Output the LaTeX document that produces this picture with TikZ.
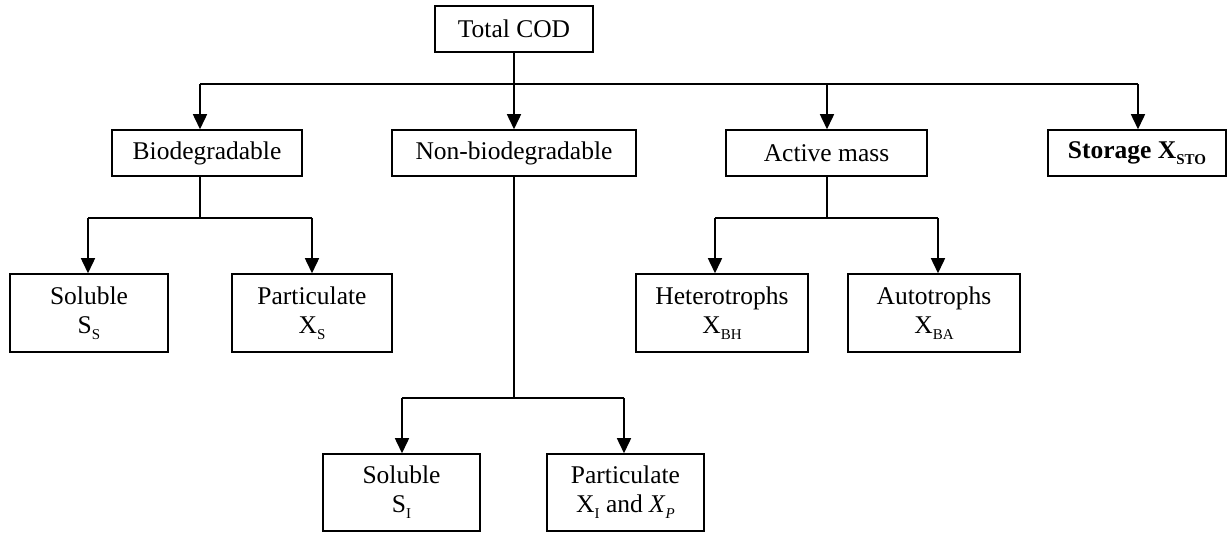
\documentclass[tikz,border=0pt]{standalone}
\usepackage{fontspec}
\setmainfont{Liberation Serif}
\usetikzlibrary{arrows.meta}
\newcommand{\lsub}[1]{\raisebox{-6pt}{\fontsize{15}{15}\selectfont #1}}
\begin{document}
\begin{tikzpicture}[x=1pt,y=-1pt,
  box/.style={draw,line width=1.5pt,rectangle,inner sep=0pt,align=center,
    font=\fontsize{25.5}{29}\selectfont},
  onebox/.style={box,minimum height=46pt},
  twobox/.style={box,minimum height=78pt},
  conn/.style={line width=1.5pt},
  arr/.style={line width=1.5pt,-{Triangle[width=14pt,length=15pt]}}]
\useasboundingbox (0,0) rectangle (1227,534);
% top
\node[onebox,minimum width=158pt] (total) at (514,29) {Total COD};
% level 1
\node[onebox,minimum width=190pt] (bio) at (207,153) {Biodegradable};
\node[onebox,minimum width=244pt] (non) at (514,153) {Non-biodegradable};
\node[onebox,minimum width=201pt] (active) at (826.5,153) {Active mass};
\node[onebox,minimum width=178pt] (sto) at (1137,153) {\textbf{Storage X\lsub{STO}}};
% level 2
\node[twobox,minimum width=158pt] (ss) at (89,313) {Soluble\\S\lsub{S}};
\node[twobox,minimum width=160pt] (xs) at (312,313) {Particulate\\X\lsub{S}};
\node[twobox,minimum width=172pt] (het) at (722,313) {Heterotrophs\\X\lsub{BH}};
\node[twobox,minimum width=172pt] (aut) at (934,313) {Autotrophs\\X\lsub{BA}};
% level 3
\node[twobox,minimum width=157pt,minimum height=77pt] (si) at (401.5,492.5) {Soluble\\S\lsub{I}};
\node[twobox,minimum width=157pt,minimum height=77pt] (xi) at (625.5,492.5) {Particulate\\X\lsub{I} and \textit{X}\lsub{\textit{P}}};
% helper coordinates
\coordinate (bus0) at (514,84);
\coordinate (bus0L) at (200,84);
\coordinate (bus0R) at (1138,84);
\coordinate (bioOut) at (200,176);
\coordinate (bus1) at (200,218);
\coordinate (bus1L) at (88,218);
\coordinate (bus1R) at (312,218);
\coordinate (actOut) at (827,176);
\coordinate (bus2) at (827,218);
\coordinate (bus2L) at (715,218);
\coordinate (bus2R) at (938,218);
\coordinate (nonOut) at (514,176);
\coordinate (bus3) at (514,398);
\coordinate (bus3L) at (402,398);
\coordinate (bus3R) at (624,398);
% connectors
\draw[conn] (total.south) -- (bus0);
\draw[conn] (bus0L) -- (bus0R);
\draw[arr] (bus0L) -- (bio.north -| bus0L);
\draw[arr] (bus0) -- (non.north);
\draw[arr] (bus0 -| actOut) -- (active.north -| actOut);
\draw[arr] (bus0R) -- (sto.north -| bus0R);
% biodegradable split
\draw[conn] (bioOut) -- (bus1);
\draw[conn] (bus1L) -- (bus1R);
\draw[arr] (bus1L) -- (ss.north -| bus1L);
\draw[arr] (bus1R) -- (xs.north);
% active split
\draw[conn] (actOut) -- (bus2);
\draw[conn] (bus2L) -- (bus2R);
\draw[arr] (bus2L) -- (het.north -| bus2L);
\draw[arr] (bus2R) -- (aut.north -| bus2R);
% non-biodegradable split
\draw[conn] (nonOut) -- (bus3);
\draw[conn] (bus3L) -- (bus3R);
\draw[arr] (bus3L) -- (si.north -| bus3L);
\draw[arr] (bus3R) -- (xi.north -| bus3R);
\end{tikzpicture}
\end{document}
